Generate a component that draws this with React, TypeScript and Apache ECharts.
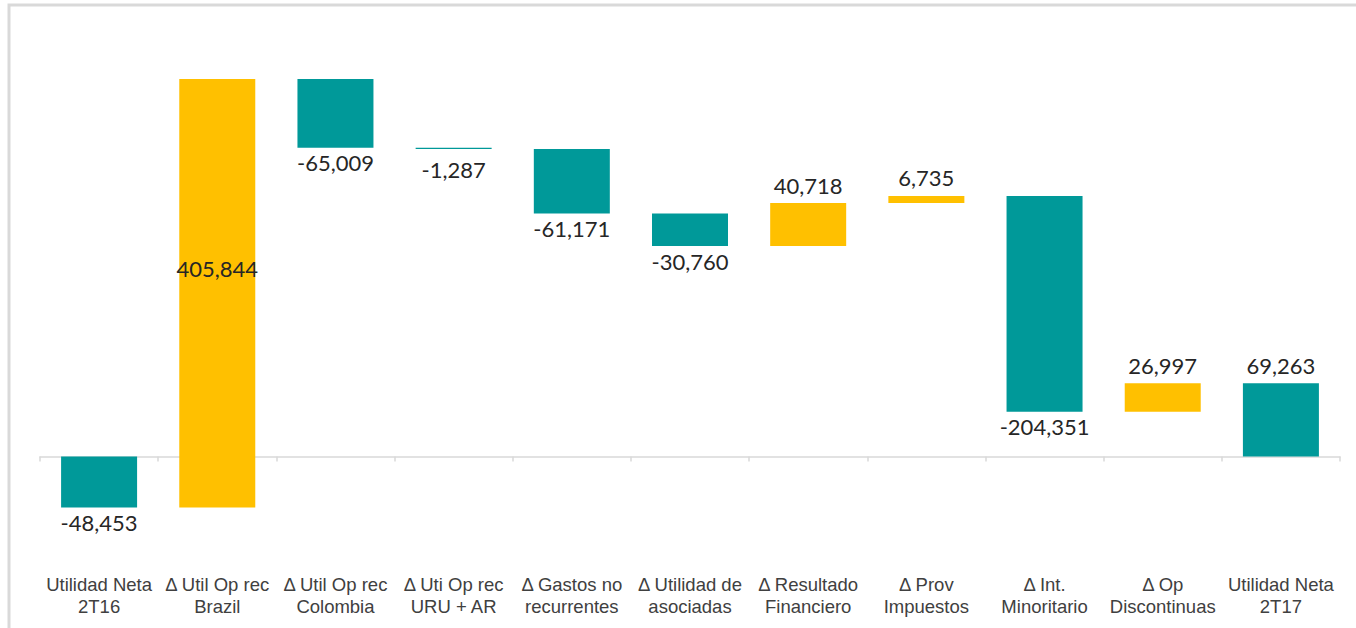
import React, { useEffect, useRef } from "react";
import * as echarts from "echarts";

const categories = [
  "Utilidad Neta\n2T16",
  "Δ Util Op rec\nBrazil",
  "Δ Util Op rec\nColombia",
  "Δ Uti Op rec\nURU + AR",
  "Δ Gastos no\nrecurrentes",
  "Δ Utilidad de\nasociadas",
  "Δ Resultado\nFinanciero",
  "Δ Prov\nImpuestos",
  "Δ Int.\nMinoritario",
  "Δ Op\nDiscontinuas",
  "Utilidad Neta\n2T17",
];
const values = [-48453, 405844, -65009, -1287, -61171, -30760, 40718, 6735, -204351, 26997, 69263];
const isTotal = [true, false, false, false, false, false, false, false, false, false, true];

const TEAL = "#009999";
const YELLOW = "#FFC000";

export default function App() {
  const ref = useRef<HTMLDivElement>(null);
  useEffect(() => {
    if (!ref.current) return;
    const chart = echarts.init(ref.current, undefined, { renderer: "svg" });

    const bases: number[] = [];
    const heights: number[] = [];
    let running = 0;
    values.forEach((v, i) => {
      if (isTotal[i]) {
        bases.push(0);
        heights.push(v);
        running = v;
      } else {
        const start = running;
        const end = running + v;
        bases.push(Math.min(start, end));
        heights.push(Math.abs(v));
        running = end;
      }
    });

    const fmt = (n: number) => n.toLocaleString("en-US");

    const deltaData = values.map((v, i) => {
      const color = !isTotal[i] && v > 0 ? YELLOW : TEAL;
      let label: any;
      if (!isTotal[i] && v > 0 && bases[i] < 0) {
        label = { position: "inside", offset: [0, -25] };
      } else if (v < 0) {
        label = { position: "bottom", distance: Math.abs(v) < 5000 ? 9 : 4 };
      } else {
        label = { position: "top", distance: 7 };
      }
      return { value: heights[i], itemStyle: { color }, label };
    });

    chart.setOption({
      animation: false,
      graphic: [
        {
          type: "rect",
          shape: { x: 9, y: 5, width: 1400, height: 700 },
          style: { fill: "none", stroke: "#d9d9d9", lineWidth: 3 },
          silent: true,
        },
      ],
      grid: { left: 40, right: 16, top: 34, bottom: 66 },
      xAxis: [
        {
          type: "category",
          data: categories,
          position: "bottom",
          axisLine: { show: false, onZero: false },
          axisTick: { show: false },
          axisLabel: {
            interval: 0,
            margin: 11,
            fontFamily: "Liberation Sans",
            fontSize: 18.5,
            lineHeight: 22,
            color: "#404040",
          },
        },
        {
          type: "category",
          data: categories,
          position: "bottom",
          axisLine: { show: true, onZero: true, lineStyle: { color: "#d9d9d9", width: 1.5 } },
          axisTick: { show: true, length: 5, lineStyle: { color: "#d9d9d9", width: 1.5 } },
          axisLabel: { show: false },
        },
      ],
      yAxis: {
        type: "value",
        min: -100000,
        max: 400000,
        show: false,
        splitLine: { show: false },
      },
      series: [
        {
          type: "bar",
          stack: "w",
          stackStrategy: "all",
          barWidth: 76,
          data: bases,
          itemStyle: { color: "transparent" },
          silent: true,
        },
        {
          type: "bar",
          stack: "w",
          stackStrategy: "all",
          barWidth: 76,
          data: deltaData,
          label: {
            show: true,
            fontFamily: "Lato",
            fontSize: 22,
            color: "#262626",
            formatter: (p: any) => fmt(values[p.dataIndex]),
          },
        },
      ],
    });
    return () => chart.dispose();
  }, []);

  return (
    <div
      ref={ref}
      style={{ position: "absolute", left: 0, top: 0, width: 1356, height: 628, background: "#fff" }}
    />
  );
}
